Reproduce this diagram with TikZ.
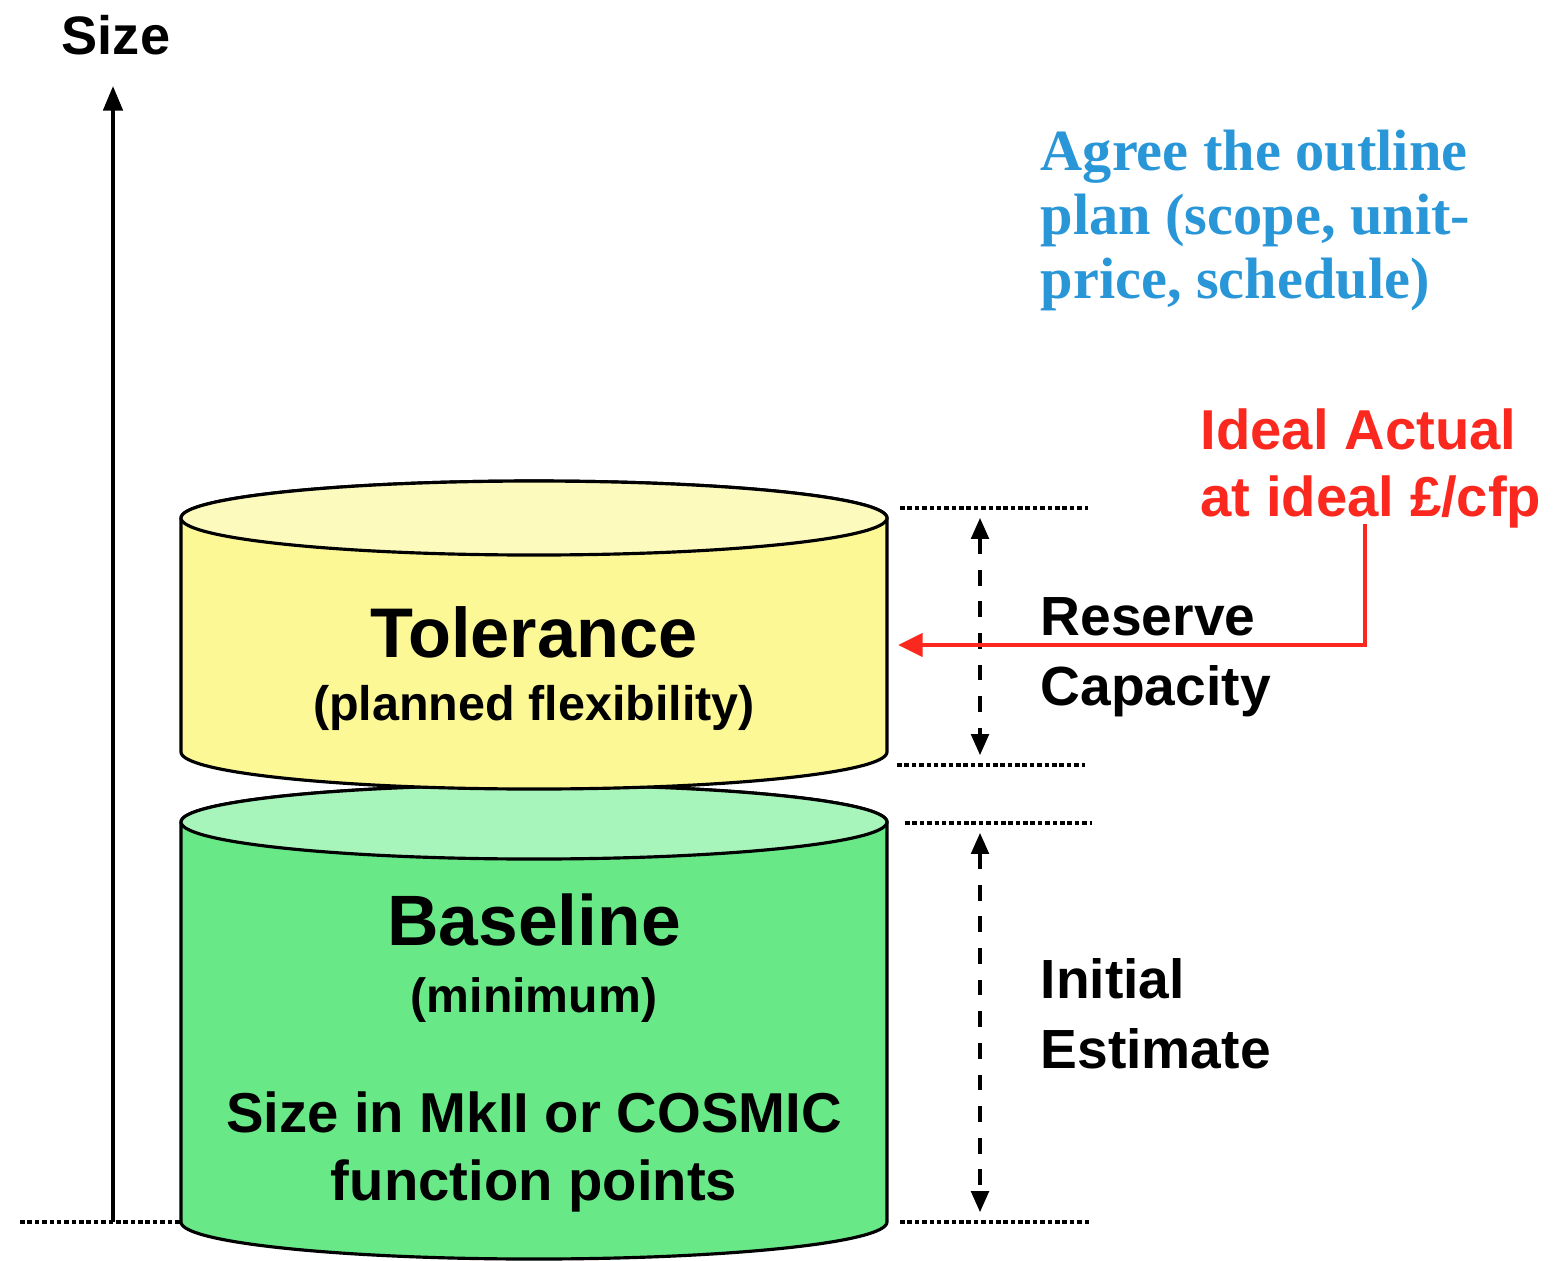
\documentclass[tikz,border=0pt]{standalone}
\usepackage{fontspec}
\setmainfont{Liberation Sans}
\newfontfamily\planfont{Liberation Serif}
\usetikzlibrary{arrows.meta}
\definecolor{tolyellow}{RGB}{253,248,150}
\definecolor{tolyellowtop}{RGB}{253,250,190}
\definecolor{basegreen}{RGB}{104,232,134}
\definecolor{basegreentop}{RGB}{168,245,188}
\definecolor{actualred}{RGB}{250,40,30}
\definecolor{agreeblue}{RGB}{40,150,215}

\begin{document}
\begin{tikzpicture}[
  level/.style={line width=1.3pt, dash pattern=on 1.3pt off 0.8pt},
  span/.style={line width=1pt, dash pattern=on 4.5pt off 4.5pt,
    {Triangle[length=6pt,width=5pt]}-{Triangle[length=6pt,width=5pt]},
    shorten <=2.8pt, shorten >=2.8pt},
  drum/.style={draw=black, line width=0.9pt},
  lbl/.style={align=left, anchor=base west, inner sep=0pt,
    font=\bfseries\fontsize{15.7}{19.9}\selectfont},
]
\fill[white] (0,0) rectangle (15.56,-12.6);
\useasboundingbox (0,0) rectangle (15.56,-12.6);

% size axis
\coordinate (origin) at (1.13,-12.22);
\coordinate (axistop) at (1.13,-0.86);
\draw[line width=1.1pt, -{Triangle[length=7pt,width=5.5pt]}] (origin) -- (axistop);
\node[font=\bfseries\fontsize{15.4}{18}\selectfont, inner sep=0pt, anchor=base] (sizelbl) at (1.16,-0.54) {Size};

% baseline drum
\draw[drum, fill=basegreen] (1.81,-8.22) -- (1.81,-12.22)
  arc[start angle=180, end angle=360, x radius=3.53, y radius=0.37]
  -- (8.87,-8.22) arc[start angle=0, end angle=180, x radius=3.53, y radius=0.37];
\draw[drum, fill=basegreentop] (5.34,-8.22) ellipse [x radius=3.53, y radius=0.37];

% tolerance drum
\draw[drum, fill=tolyellow] (1.81,-5.18) -- (1.81,-7.52)
  arc[start angle=180, end angle=360, x radius=3.53, y radius=0.37]
  -- (8.87,-5.18) arc[start angle=0, end angle=180, x radius=3.53, y radius=0.37];
\draw[drum, fill=tolyellowtop] (5.34,-5.18) ellipse [x radius=3.53, y radius=0.37];

\node[font=\bfseries\fontsize{20}{24}\selectfont, anchor=base] (tolname) at (5.34,-6.57) {Tolerance};
\node[font=\bfseries\fontsize{13.8}{16}\selectfont, anchor=base] (tolnote) at (5.34,-7.2) {(planned flexibility)};
\node[font=\bfseries\fontsize{20.3}{24}\selectfont, anchor=base] (basename) at (5.34,-9.45) {Baseline};
\node[font=\bfseries\fontsize{13.7}{16}\selectfont, anchor=base] (basenote) at (5.34,-10.12) {(minimum)};
\node[font=\bfseries\fontsize{16}{19.3}\selectfont, anchor=base] (baseunit) at (5.34,-11.32) {Size in MkII or COSMIC};
\node[font=\bfseries\fontsize{16}{19.3}\selectfont, anchor=base] (baseunit2) at (5.34,-12.0) {function points};

% levels
\foreach \y/\a/\b in {5.08/9.0/10.88, 7.65/8.97/10.85, 8.23/9.05/10.92, 12.22/9.0/10.9, 12.22/0.2/1.81}
  \draw[level] (\a,-\y) -- (\b,-\y);

\coordinate (tolhi) at (9.8,-5.08);
\coordinate (tollo) at (9.8,-7.65);
\coordinate (basehi) at (9.8,-8.23);
\coordinate (baselo) at (9.8,-12.22);
\draw[span] (tolhi) -- (tollo);
\draw[span] (basehi) -- (baselo);

\node[lbl] (reserve) at (10.4,-7.05) {Reserve\\Capacity};
\node[lbl] (initial) at (10.4,-10.68) {Initial\\Estimate};

% ideal actual
\node[lbl, text=actualred, font=\bfseries\fontsize{16}{18.8}\selectfont] (ideal) at (12.0,-5.16) {Ideal Actual\\at ideal £/cfp};
\coordinate (idealfoot) at (13.65,-5.24);
\coordinate (tolside) at (8.98,-6.45);
\draw[actualred, line width=1.3pt, -{Triangle[length=7pt,width=6.5pt]}] (idealfoot) |- (tolside);

\node[lbl, text=agreeblue, font=\planfont\bfseries\fontsize{16.6}{18.2}\selectfont] (agree) at (10.4,-2.98) {Agree the outline\\plan (scope, unit-\\price, schedule)};
\end{tikzpicture}
\end{document}
